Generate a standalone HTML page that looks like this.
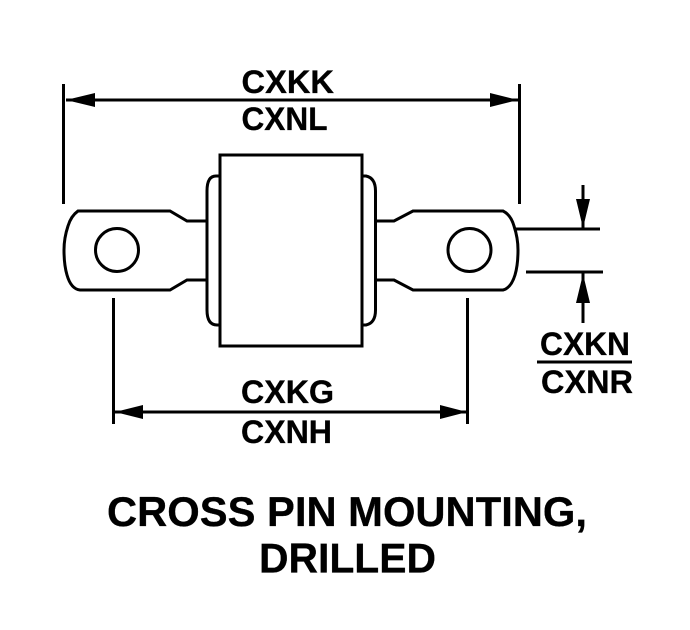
<!DOCTYPE html>
<html><head><meta charset="utf-8"><style>html,body{margin:0;padding:0;background:#fff;width:690px;height:630px;overflow:hidden}svg{display:block}text{font-family:"Liberation Sans",sans-serif;font-weight:bold;fill:#000;stroke:#000;stroke-width:.3}</style></head>
<body><svg width="690" height="630" viewBox="0 0 690 630" xmlns="http://www.w3.org/2000/svg">
<g fill="none" stroke="#000" stroke-width="3">
<rect x="220" y="155" width="142" height="191"/>
<path d="M220 176H216Q207 176 207 191V310Q207 325 217 325H220"/>
<path d="M362 176H366Q375.500 178 375.500 191V310Q375.500 323 366 325H362"/>
<path d="M207 221H187L170 211H78Q71 216 68 226Q64 238 64 250Q64 265 67 275Q71 289 80 290H170L187 280H207"/>
<path d="M376 221H394L413 211H503Q511 215 514 226Q518 238 518 250Q518 265 515 275Q511 288 503 290H413L394 280H376"/>
<circle cx="117" cy="250" r="21.500"/>
<circle cx="469.500" cy="250" r="21.500"/>
<path d="M63.500 84V204M519.500 84V204M113.500 298V424M467.500 298V424"/>
<path d="M66 100H518M115 412H467"/>
<path d="M516 229H600M526 272H603M583 185V229M583 273V323M537 362H632"/>
</g>
<path d="M66 100L95 93V107ZM518 100L490 93V107ZM115 412L143 405V419ZM467 412L440 405V419ZM583 228L576 199H590ZM583 274L576 303H590Z" fill="#000"/>
<text x="241.500" y="93" font-size="32.500" textLength="92.500" lengthAdjust="spacingAndGlyphs">CXKK</text>
<text x="241.500" y="130" font-size="32.500" textLength="86" lengthAdjust="spacingAndGlyphs">CXNL</text>
<text x="241" y="403" font-size="32.500" textLength="93" lengthAdjust="spacingAndGlyphs">CXKG</text>
<text x="241" y="443" font-size="32.500" textLength="91" lengthAdjust="spacingAndGlyphs">CXNH</text>
<text x="540" y="355" font-size="32" textLength="90" lengthAdjust="spacingAndGlyphs">CXKN</text>
<text x="541" y="393" font-size="32" textLength="92" lengthAdjust="spacingAndGlyphs">CXNR</text>
<text x="107" y="526" font-size="41.700" textLength="480" lengthAdjust="spacingAndGlyphs">CROSS PIN MOUNTING,</text>
<text x="259" y="572.500" font-size="41.700" textLength="177" lengthAdjust="spacingAndGlyphs">DRILLED</text>
</svg></body></html>
